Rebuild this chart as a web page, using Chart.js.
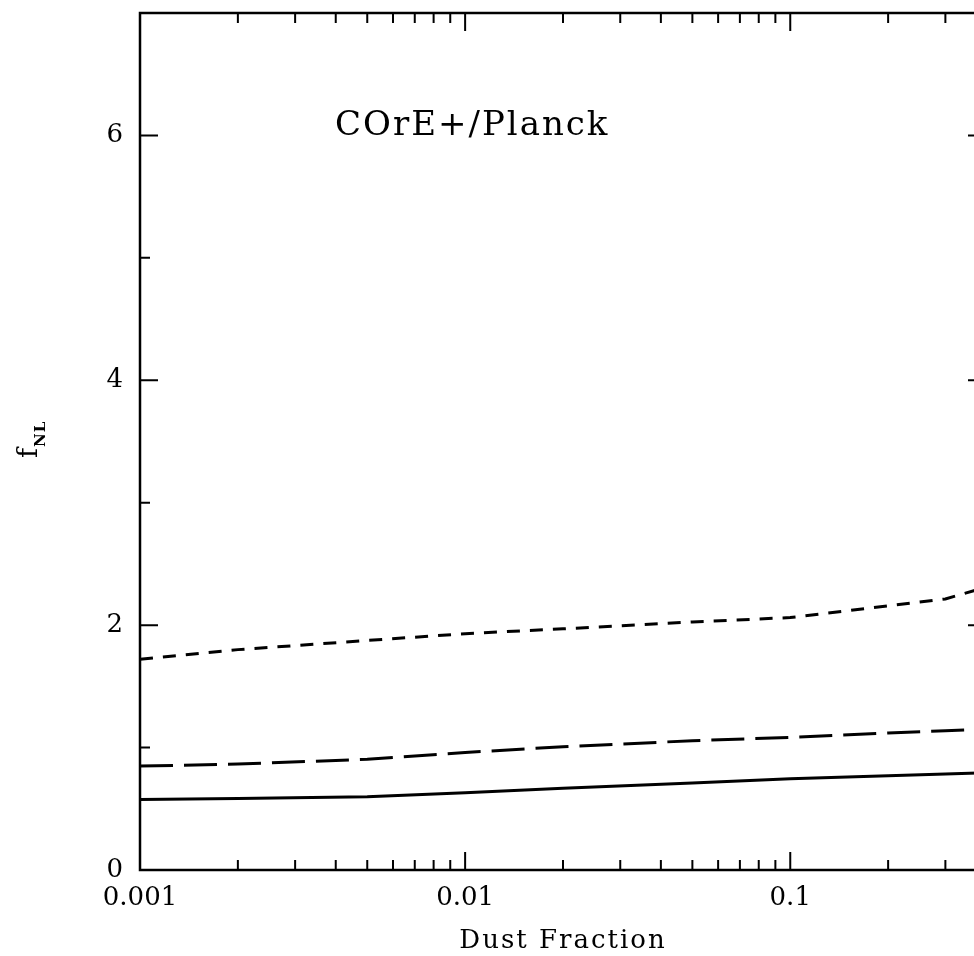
<!DOCTYPE html>
<html>
<head>
<meta charset="utf-8">
<script src="https://cdn.jsdelivr.net/npm/chart.js@4/dist/chart.umd.min.js"></script>
<style>
html,body{margin:0;padding:0;background:#fff;overflow:hidden;width:974px;height:956px}
#wrap{position:absolute;left:0;top:0;width:1000px;height:956px}
</style>
</head>
<body>
<div id="wrap"><canvas id="c" width="1000" height="956"></canvas></div>
<script>
// ---- data ----
const dustFraction   = [0.001, 0.002, 0.005, 0.01, 0.02, 0.05, 0.1, 0.2, 0.3, 0.4];
const fnlShortDash   = [1.722, 1.80, 1.875, 1.93, 1.97, 2.026, 2.062, 2.157, 2.214, 2.31];
const fnlLongDash    = [0.849, 0.865, 0.905, 0.96, 1.007, 1.056, 1.083, 1.12, 1.137, 1.15];
const fnlSolid       = [0.575, 0.583, 0.598, 0.63, 0.667, 0.71, 0.745, 0.77, 0.785, 0.795];
const xTickLabels    = [0.001, 0.01, 0.1];
const yTickValues    = [0, 1, 2, 3, 4, 5, 6, 7];
const yLabelled      = [0, 2, 4, 6];
const minorMultipliers = [2, 3, 4, 5, 6, 7, 8, 9];
const xMin = 0.001, xMax = 0.4, yMin = 0, yMax = 7;
const titleText = 'COrE+/Planck';
const xTitleText = 'Dust Fraction';
const yTitleMain = 'f';
const yTitleSub = 'NL';

const SERIF = '"DejaVu Serif", "Liberation Serif", serif';

function series(ys){ return dustFraction.map((x,i)=>({x:x, y:ys[i]})); }

const framePlugin = {
  id: 'frame',
  afterDraw(chart){
    const ctx = chart.ctx, ca = chart.chartArea;
    const xs = chart.scales.x, ys = chart.scales.y;
    ctx.save();
    ctx.strokeStyle = '#000';
    ctx.lineWidth = 2.5;
    ctx.strokeRect(ca.left, ca.top, ca.right - ca.left, ca.bottom - ca.top);
    ctx.lineWidth = 2;
    ctx.beginPath();
    xTickLabels.forEach(d => {
      [1].concat(minorMultipliers).forEach(m => {
        const v = m * d;
        if (v > xMax * 1.0001) return;
        const len = m === 1 ? 18 : 10;
        const px = xs.getPixelForValue(v);
        ctx.moveTo(px, ca.bottom); ctx.lineTo(px, ca.bottom - len);
        ctx.moveTo(px, ca.top);    ctx.lineTo(px, ca.top + len);
      });
    });
    yTickValues.forEach(v => {
      const len = yLabelled.includes(v) ? 18 : 10;
      const py = ys.getPixelForValue(v);
      ctx.moveTo(ca.left, py);  ctx.lineTo(ca.left + len, py);
      ctx.moveTo(ca.right, py); ctx.lineTo(ca.right - len, py);
    });
    ctx.stroke();

    ctx.fillStyle = '#000';
    ctx.textAlign = 'left';
    ctx.textBaseline = 'alphabetic';
    // title inside plot
    ctx.font = '34px ' + SERIF;
    ctx.letterSpacing = '2px';
    ctx.fillText(titleText, 335, 135);
    // x axis title
    ctx.font = '26px ' + SERIF;
    ctx.letterSpacing = '2px';
    ctx.textAlign = 'center';
    ctx.fillText(xTitleText, 563, 948);
    // y axis title: f_NL rotated
    ctx.letterSpacing = '0px';
    ctx.translate(37, 458);
    ctx.rotate(-Math.PI/2);
    ctx.textAlign = 'left';
    ctx.font = '27px ' + SERIF;
    ctx.fillText(yTitleMain, 0, 0);
    const fw = ctx.measureText(yTitleMain).width;
    ctx.font = 'bold 15px ' + SERIF;
    ctx.letterSpacing = '1px';
    ctx.fillText(yTitleSub, fw + 1, 8);
    ctx.restore();
  }
};

const lineStyle = {borderColor:'#000', borderWidth:3, pointRadius:0, tension:0, fill:false};

new Chart(document.getElementById('c'), {
  type: 'line',
  data: {
    datasets: [
      Object.assign({label:'short dash', data: series(fnlShortDash), borderDash:[13,10]}, lineStyle),
      Object.assign({label:'long dash',  data: series(fnlLongDash),  borderDash:[33,11]}, lineStyle),
      Object.assign({label:'solid',      data: series(fnlSolid)}, lineStyle)
    ]
  },
  options: {
    responsive: false,
    animation: false,
    devicePixelRatio: 1,
    layout: {padding: {left: 0, right: 14, top: 13, bottom: 0}},
    plugins: {legend: {display:false}, tooltip: {enabled:false}},
    scales: {
      x: {
        type: 'logarithmic',
        position: 'bottom',
        min: xMin, max: xMax,
        afterFit: s => { s.height = 86; s.paddingLeft = 0; s.paddingRight = 0; },
        afterBuildTicks: s => { s.ticks = xTickLabels.map(v => ({value: v})); },
        grid: {display:false, drawTicks:false},
        border: {display:false},
        ticks: {
          color:'#000', padding: 13, maxRotation:0, autoSkip:false,
          font: {family: SERIF, size: 26},
          callback: v => String(v)
        }
      },
      y: {
        type: 'linear',
        min: yMin, max: yMax,
        afterFit: s => { s.width = 140; s.paddingTop = 0; s.paddingBottom = 0; },
        afterBuildTicks: s => { s.ticks = yTickValues.map(v => ({value: v})); },
        grid: {display:false, drawTicks:false},
        border: {display:false},
        ticks: {
          color:'#000', padding: 17,
          font: {family: SERIF, size: 26},
          callback: v => yLabelled.includes(v) ? String(v) : ''
        }
      }
    }
  },
  plugins: [framePlugin]
});
</script>
</body>
</html>
